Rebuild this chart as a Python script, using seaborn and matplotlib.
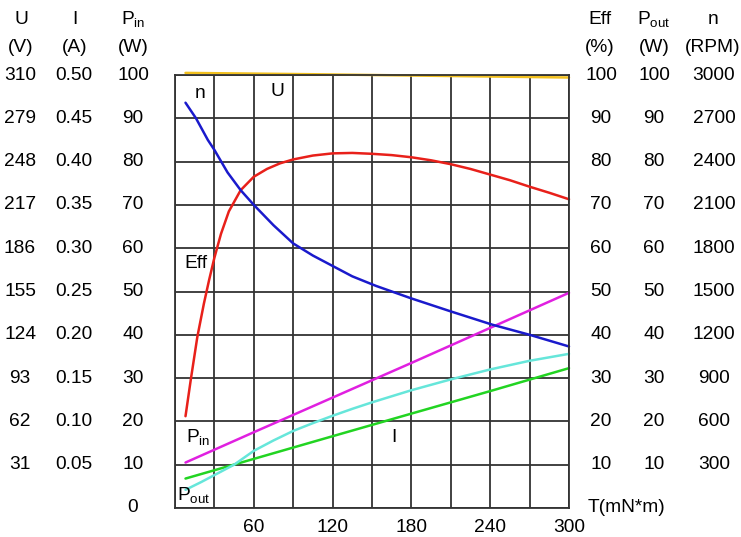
import numpy as np
import pandas as pd
import matplotlib
matplotlib.use("Agg")
import matplotlib.pyplot as plt
import seaborn as sns

sns.set_style("white")
plt.rcParams["font.family"] = ["Liberation Sans", "DejaVu Sans"]
plt.rcParams["mathtext.fontset"] = "custom"
plt.rcParams["mathtext.rm"] = "Liberation Sans"
plt.rcParams["mathtext.it"] = "Liberation Sans"
plt.rcParams["text.color"] = "black"

# valeurs (unites reelles)
t_u = [8, 100, 200, 300]
u_volt = [311.5, 310.6, 309.4, 308.2]

t_i = [8, 60, 120, 180, 240, 300]
i_amp = [0.034, 0.0567, 0.0829, 0.109, 0.135, 0.1615]

t_pin = [8, 60, 120, 180, 240, 300]
p_in = [10.5, 17.5, 25.5, 33.5, 41.6, 49.7]

t_pout = [8, 20, 30, 45, 60, 75, 90, 105, 120, 135, 150, 165, 180, 210, 240, 270, 300]
p_out = [4.2, 6.0, 7.6, 10.0, 13.2, 15.6, 17.8, 19.6, 21.3, 22.9, 24.4, 25.8, 27.2, 29.7, 32.0, 34.0, 35.6]

t_eff = [8, 12, 17, 22, 26, 30, 35, 41, 50, 60, 70, 80, 90, 105, 120, 135, 150, 165,
         180, 195, 210, 225, 240, 255, 270, 285, 300]
eff = [21.2, 29.6, 39.5, 47.2, 52.7, 57.8, 63.3, 68.5, 73.4, 76.5, 78.3, 79.6, 80.5,
       81.4, 81.9, 82.0, 81.8, 81.5, 81.0, 80.3, 79.4, 78.3, 77.0, 75.7, 74.2, 72.8, 71.3]

t_n = [8, 16, 25, 30, 40, 50, 60, 75, 90, 105, 120, 135, 153, 180, 210, 242, 270, 300]
n_rpm = [2808, 2700, 2550, 2481, 2325, 2202, 2100, 1959, 1833, 1749, 1677, 1605,
         1539, 1452, 1362, 1269, 1200, 1119]

# colonnes d'echelles
u_ticks = ["310", "279", "248", "217", "186", "155", "124", "93", "62", "31"]
i_ticks = ["0.50", "0.45", "0.40", "0.35", "0.30", "0.25", "0.20", "0.15", "0.10", "0.05"]
pin_ticks = ["100", "90", "80", "70", "60", "50", "40", "30", "20", "10", "0"]
eff_ticks = ["100", "90", "80", "70", "60", "50", "40", "30", "20", "10"]
pout_ticks = ["100", "90", "80", "70", "60", "50", "40", "30", "20", "10"]
n_ticks = ["3000", "2700", "2400", "2100", "1800", "1500", "1200", "900", "600", "300"]
x_ticks = [60, 120, 180, 240, 300]

# tout ramene sur l'echelle commune 0-100
frames = [
    pd.DataFrame({"T": t_u, "val": np.array(u_volt) / 3.10, "serie": "U"}),
    pd.DataFrame({"T": t_i, "val": np.array(i_amp) * 200, "serie": "I"}),
    pd.DataFrame({"T": t_pin, "val": p_in, "serie": "Pin"}),
    pd.DataFrame({"T": t_pout, "val": p_out, "serie": "Pout"}),
    pd.DataFrame({"T": t_eff, "val": eff, "serie": "Eff"}),
    pd.DataFrame({"T": t_n, "val": np.array(n_rpm) / 30, "serie": "n"}),
]
df = pd.concat(frames, ignore_index=True)

couleurs = {
    "U": "#f2c01e",
    "I": "#22d422",
    "Pin": "#e020e0",
    "Pout": "#66e6da",
    "Eff": "#e8201a",
    "n": "#1a1acc",
}

W, H = 741, 537
fig = plt.figure(figsize=(W / 100, H / 100), dpi=100)
x0, x1, y0, y1 = 175, 569, 75, 508
ax = fig.add_axes([x0 / W, 1 - y1 / H, (x1 - x0) / W, (y1 - y0) / H])

sns.lineplot(data=df, x="T", y="val", hue="serie", palette=couleurs,
             estimator=None, sort=False, legend=False, linewidth=1.8, ax=ax)
for line in ax.get_lines():
    line.set_clip_on(False)

ax.set_xlim(0, 300)
ax.set_ylim(0, 100)
ax.set_xticks(range(0, 301, 30))
ax.set_yticks(range(0, 101, 10))
ax.grid(True, color="#333333", linewidth=1.3)
ax.set_axisbelow(True)
ax.tick_params(length=0, labelleft=False, labelbottom=False)
ax.set_xlabel("")
ax.set_ylabel("")
for s in ax.spines.values():
    s.set_color("#333333")
    s.set_linewidth(1.3)

fs = 13.8
tr = ax.get_yaxis_transform()
def col(px):
    return (px - x0) / (x1 - x0)

vals = list(range(100, 0, -10))
for k, v in enumerate(vals):
    ax.text(col(20), v, u_ticks[k], transform=tr, ha="center", va="center", fontsize=fs, clip_on=False)
    ax.text(col(74), v, i_ticks[k], transform=tr, ha="center", va="center", fontsize=fs, clip_on=False)
    ax.text(col(601), v, eff_ticks[k], transform=tr, ha="center", va="center", fontsize=fs, clip_on=False)
    ax.text(col(654), v, pout_ticks[k], transform=tr, ha="center", va="center", fontsize=fs, clip_on=False)
    ax.text(col(714), v, n_ticks[k], transform=tr, ha="center", va="center", fontsize=fs, clip_on=False)
for k, lab in enumerate(pin_ticks):
    ax.text(col(133), 100 - 10 * k, lab, transform=tr, ha="center", va="center", fontsize=fs, clip_on=False)

xt = ax.get_xaxis_transform()
for v in x_ticks:
    ax.text(v, -0.046, str(v), transform=xt, ha="center", va="center", fontsize=fs, clip_on=False)
ax.text(col(626), 0, "T(mN*m)", transform=tr, ha="center", va="center", fontsize=fs, clip_on=False)

# en-tetes des colonnes
entetes = [(21, "U", "(V)"), (75, "I", "(A)"), (133, r"P$_{\mathregular{in}}$", "(W)"),
           (600, "Eff", "(%)"), (654, r"P$_{\mathregular{out}}$", "(W)"), (713, "n", "(RPM)")]
for px, a, b in entetes:
    fig.text(px / W, 1 - 19 / H, a, ha="center", va="center", fontsize=fs)
    fig.text(px / W, 1 - 47 / H, b, ha="center", va="center", fontsize=fs)

# etiquettes des courbes
etiq = [(200, 94, "n"), (277, 92, "U"), (196, 263, "Eff"),
        (198, 437, r"P$_{\mathregular{in}}$"), (194, 495, r"P$_{\mathregular{out}}$"), (394, 437, "I")]
for px, py, s in etiq:
    fig.text(px / W, 1 - py / H, s, ha="center", va="center", fontsize=fs)

fig.savefig("out.png", dpi=100, facecolor="white")
